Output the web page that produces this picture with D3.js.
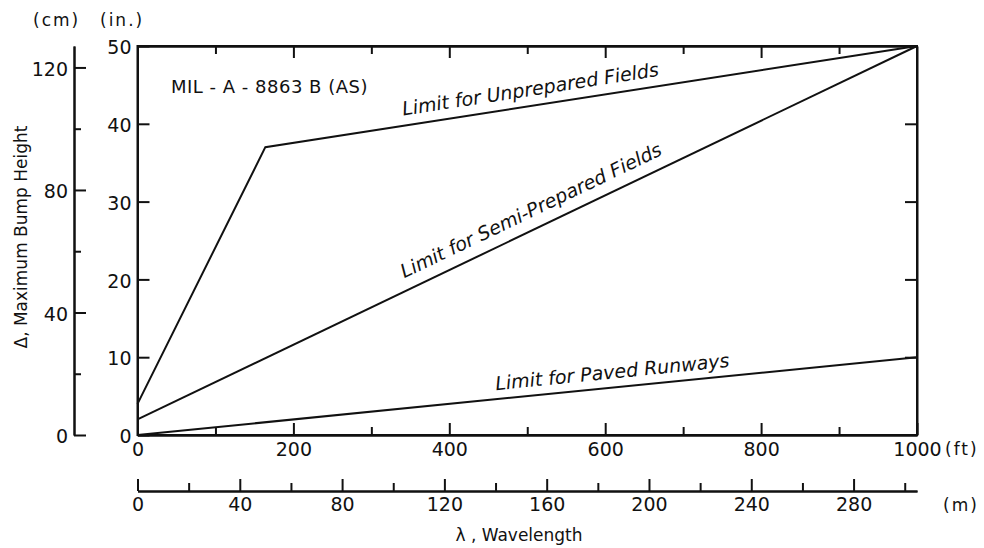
<!DOCTYPE html>
<html lang="en">
<head>
    <meta charset="UTF-8">
    <title>Bump height limits</title>
    <style>
        body { margin: 0; background: #fff; }
        svg { font-family: "DejaVu Sans", sans-serif; }
        .axis path, .axis line { stroke: #111; stroke-width: 2px; }
        .axis text { font-size: 19px; fill: #111; font-family: "DejaVu Sans", sans-serif; }
        .curve { fill: none; stroke: #111; stroke-width: 2px; }
        .lbl { font-size: 17px; fill: #111; }
        .it { font-style: italic; font-size: 19px; fill: #111; }
    </style>
</head>
<body>
    <script src="https://cdn.jsdelivr.net/npm/d3@7"></script>
    <script>
        // wavelength in ft, bump height in inches
        var unpreparedFt = [0, 164, 1000];
        var unpreparedIn = [4, 37, 50];
        var semiFt = [0, 1000];
        var semiIn = [2, 50];
        var pavedFt = [0, 1000];
        var pavedIn = [0, 10];

        var ftMajor = [0, 200, 400, 600, 800, 1000];
        var ftMinor = [100, 300, 500, 700, 900];
        var inTicks = [0, 10, 20, 30, 40, 50];
        var cmMajor = [0, 40, 80, 120];
        var cmMinor = [20, 60, 100];
        var mMajor = [0, 40, 80, 120, 160, 200, 240, 280];
        var mMinor = [20, 60, 100, 140, 180, 220, 260, 300];

        var width = 984, height = 548;
        var pLeft = 137.5, pRight = 917, pTop = 46, pBottom = 435;

        var svg = d3.select("body").append("svg")
            .attr("width", width)
            .attr("height", height);

        var x = d3.scaleLinear().domain([0, 1000]).range([pLeft, pRight]);
        var y = d3.scaleLinear().domain([0, 50]).range([pBottom, pTop]);
        var yCm = d3.scaleLinear().domain([0, 127]).range([pBottom, pTop]);
        var xm = d3.scaleLinear().domain([0, 304.8]).range([pLeft, pRight]);

        // frame
        svg.append("rect")
            .attr("x", pLeft).attr("y", pTop)
            .attr("width", pRight - pLeft).attr("height", pBottom - pTop)
            .attr("fill", "none").attr("stroke", "#111").attr("stroke-width", 2);

        // bottom ft axis
        svg.append("g").attr("class", "axis")
            .attr("transform", "translate(0," + pBottom + ")")
            .call(d3.axisBottom(x).tickValues(ftMajor).tickSizeInner(-12).tickSizeOuter(0).tickPadding(8)
                .tickFormat(d3.format("d")));
        svg.append("g").attr("class", "axis")
            .attr("transform", "translate(0," + pBottom + ")")
            .call(d3.axisBottom(x).tickValues(ftMinor).tickSizeInner(-8).tickSizeOuter(0).tickFormat(""));

        // top ft ticks
        svg.append("g").attr("class", "axis")
            .attr("transform", "translate(0," + pTop + ")")
            .call(d3.axisTop(x).tickValues(ftMajor.slice(1, -1)).tickSizeInner(-12).tickSizeOuter(0).tickFormat(""));
        svg.append("g").attr("class", "axis")
            .attr("transform", "translate(0," + pTop + ")")
            .call(d3.axisTop(x).tickValues(ftMinor).tickSizeInner(-8).tickSizeOuter(0).tickFormat(""));

        // inch axis on left
        var inAxis = svg.append("g").attr("class", "axis")
            .attr("transform", "translate(" + pLeft + ",0)")
            .call(d3.axisLeft(y).tickValues(inTicks).tickSizeInner(-12).tickSizeOuter(0).tickPadding(6));
        inAxis.selectAll(".tick text").attr("dy", "0.4em");

        // inch ticks on right
        svg.append("g").attr("class", "axis")
            .attr("transform", "translate(" + pRight + ",0)")
            .call(d3.axisRight(y).tickValues(inTicks.slice(1, -1)).tickSizeInner(-12).tickSizeOuter(0).tickFormat(""));

        // cm axis
        var cmAxis = svg.append("g").attr("class", "axis")
            .attr("transform", "translate(74,0)")
            .call(d3.axisLeft(yCm).tickValues(cmMajor).tickSizeInner(-12).tickSizeOuter(0).tickPadding(6));
        cmAxis.selectAll(".tick text").attr("dy", "0.4em");
        svg.append("g").attr("class", "axis")
            .attr("transform", "translate(74,0)")
            .call(d3.axisLeft(yCm).tickValues(cmMinor).tickSizeInner(-7).tickSizeOuter(0).tickFormat(""));

        // metre axis
        svg.append("g").attr("class", "axis")
            .attr("transform", "translate(0,491)")
            .call(d3.axisBottom(xm).tickValues(mMajor).tickSizeInner(-12).tickSizeOuter(0).tickPadding(7));
        svg.append("g").attr("class", "axis")
            .attr("transform", "translate(0,491)")
            .call(d3.axisBottom(xm).tickValues(mMinor).tickSizeInner(-8).tickSizeOuter(0).tickFormat(""));

        // unit labels
        svg.append("text").attr("class", "lbl").attr("x", 33).attr("y", 26)
            .attr("letter-spacing", 2).text("(cm)");
        svg.append("text").attr("class", "lbl").attr("x", 100).attr("y", 26)
            .attr("letter-spacing", 2).text("(in.)");
        svg.append("text").attr("class", "lbl").attr("x", 945).attr("y", 455)
            .attr("letter-spacing", 2).text("(ft)");
        svg.append("text").attr("class", "lbl").attr("x", 943).attr("y", 511)
            .attr("letter-spacing", 2).text("(m)");
        svg.append("text").attr("class", "lbl").attr("x", 519).attr("y", 541)
            .attr("text-anchor", "middle").text("λ , Wavelength");
        svg.append("text").attr("class", "lbl")
            .attr("transform", "translate(27,237) rotate(-90)")
            .attr("text-anchor", "middle").text("Δ, Maximum Bump Height");
        svg.append("text").attr("class", "lbl").attr("x", 171).attr("y", 93)
            .style("font-size", "18px").attr("letter-spacing", 0.5).text("MIL - A - 8863 B (AS)");

        // curves
        var line = d3.line()
            .x(function(d) { return x(d[0]); })
            .y(function(d) { return y(d[1]); });

        var series = [
            { ft: unpreparedFt, inch: unpreparedIn, name: "Limit for Unprepared Fields", at: 343, seg: 1, off: 10 },
            { ft: semiFt, inch: semiIn, name: "Limit for Semi-Prepared Fields", at: 349, seg: 0, off: 12 },
            { ft: pavedFt, inch: pavedIn, name: "Limit for Paved Runways", at: 461, seg: 0, off: 9 }
        ];

        series.forEach(function(s) {
            var pts = s.ft.map(function(f, i) { return [f, s.inch[i]]; });
            svg.append("path").attr("class", "curve").attr("d", line(pts));

            // label along the segment it sits on
            var a = pts[s.seg], b = pts[s.seg + 1];
            var ang = Math.atan2(y(b[1]) - y(a[1]), x(b[0]) - x(a[0])) * 180 / Math.PI;
            var t = (s.at - a[0]) / (b[0] - a[0]);
            var px = x(s.at), py = y(a[1] + t * (b[1] - a[1]));
            svg.append("text").attr("class", "it")
                .attr("transform", "translate(" + px + "," + py + ") rotate(" + ang + ") translate(0," + (-s.off) + ")")
                .text(s.name);
        });
    </script>
</body>
</html>
